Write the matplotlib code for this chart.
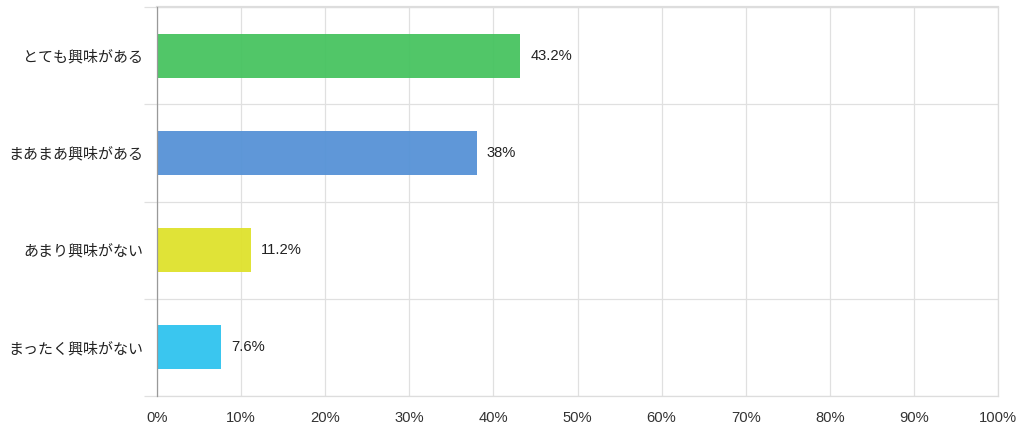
import matplotlib
matplotlib.use("Agg")
import matplotlib.pyplot as plt
import numpy as np

# data
categories = ["とても興味がある", "まあまあ興味がある", "あまり興味がない", "まったく興味がない"]
values = [43.2, 38, 11.2, 7.6]
colors = ["#47c360", "#5692d6", "#dfe22c", "#2fc3ef"]
xticks = [0, 10, 20, 30, 40, 50, 60, 70, 80, 90, 100]

W, H = 1024, 430
fig = plt.figure(figsize=(W / 100, H / 100), dpi=100)
ax = fig.add_axes([157 / W, 1 - 396 / H, (998 - 157) / W, (396 - 7) / H])

n = len(categories)
ypos = np.arange(n)
ax.barh(ypos, values, height=0.45, color=colors, alpha=0.95, zorder=2)
ax.set_ylim(n - 0.5, -0.5)
ax.set_xlim(0, 100)

# value labels
for y, v in zip(ypos, values):
    ax.text(v + 1.2, y, "%g%%" % v, va="center", ha="left", fontsize=10.6,
            family=["Liberation Sans", "DejaVu Sans"], color="#222222", zorder=3)

# x axis
ax.set_xticks(xticks)
ax.set_xticklabels(["%d%%" % t for t in xticks], family=["Liberation Sans", "DejaVu Sans"],
                   fontsize=10.6, color="#333333")
ax.tick_params(axis="x", length=0, pad=11)
ax.grid(axis="x", color="#e0e0e0", linewidth=0.9, zorder=1)

# y axis: labels at centers, separators at boundaries
ax.set_yticks(ypos)
ax.set_yticklabels(categories, family=["Noto Sans CJK JP", "DejaVu Sans"], fontsize=10.8, color="#222222")
ax.tick_params(axis="y", which="major", length=0, pad=10)
ax.set_yticks(np.arange(-0.5, n, 1.0), minor=True)
ax.tick_params(axis="y", which="minor", length=9.5, color="#e0e0e0", width=0.9)
ax.grid(axis="y", which="minor", color="#e0e0e0", linewidth=0.9, zorder=1)

for side in ["top", "right", "bottom"]:
    ax.spines[side].set_color("#dddddd")
    ax.spines[side].set_linewidth(0.9)
ax.spines["top"].set_linewidth(1.6)
ax.spines["left"].set_color("#999999")
ax.spines["left"].set_linewidth(0.9)
ax.spines["left"].set_zorder(4)

fig.savefig("out.png", dpi=100)
